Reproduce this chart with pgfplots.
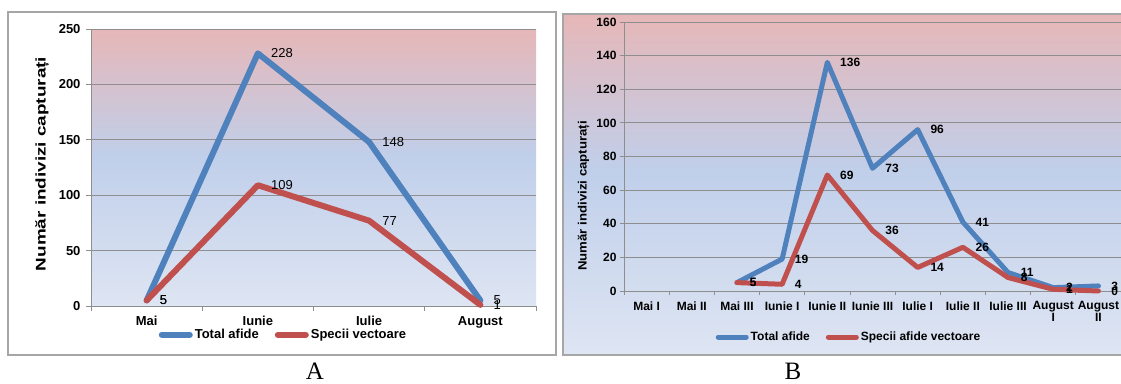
\documentclass[border=0pt]{standalone}
\usepackage{pgfplots}
\usepackage{pgfplotstable}
\pgfplotsset{compat=1.18}
\usepackage{fontspec}
\setmainfont{Liberation Sans}
\newfontfamily\panelfont{Liberation Serif}

\definecolor{totalblue}{HTML}{4F81BD}
\definecolor{vectred}{HTML}{C0504D}
\definecolor{bgTop}{HTML}{E6B7B8}
\definecolor{bgMid}{HTML}{C0CFEA}
\definecolor{bgBot}{HTML}{DEE5F3}
\definecolor{gridgray}{HTML}{8E8E8E}
\definecolor{framegray}{HTML}{A6A6A6}

% pink-to-blue background, blue reached a little above the middle
\pgfdeclareverticalshading{excelbg}{100bp}{color(0bp)=(bgBot); color(25bp)=(bgBot); color(52bp)=(bgMid); color(75bp)=(bgTop); color(100bp)=(bgTop)}

\newcommand{\fs}[1]{\fontsize{#1}{#1}\selectfont}

% monthly captures
\pgfplotstableread{
idx total vect
0 5 5
1 228 109
2 148 77
3 5 1
}\lunar

% captures per ten-day period
\pgfplotstableread{
idx total vect
2 5 5
3 19 4
4 136 69
5 73 36
6 96 14
7 41 26
8 11 8
9 2 1
10 3 0
}\decadal

\pgfplotsset{
  /pgf/number format/assume math mode=true,
  excelstyle/.style={
    scale only axis,
    axis lines*=left,
    axis line style={gridgray, line width=1pt},
    tick style={gridgray, line width=0.8pt},
    tick align=outside,
    major tick length=5pt,
    ymajorgrids,
    grid style={gridgray, line width=0.8pt},
    x tick label as interval,
    clip=false,
    legend columns=2,
    legend cell align=left,
    legend image code/.code={\draw[line cap=round] (0pt,0pt) -- (28pt,0pt);},
  },
}

\begin{document}
\begin{tikzpicture}[x=1pt,y=1pt]
\useasboundingbox (0,0) rectangle (1121,383);

% panel frames
\draw[framegray, line width=1.5pt, fill=white] (8,28) rectangle (556,371);
\shade[shading=excelbg] (563,28) rectangle (1135,369);
\draw[framegray, line width=1.5pt] (563,28) rectangle (1135,369);

% ---- A: monthly totals ----
\begin{axis}[
  excelstyle,
  at={(91pt,77pt)}, anchor=south west,
  width=445pt, height=277pt,
  axis background/.style={shade, shading=excelbg},
  xmin=-0.5, xmax=3.5, ymin=0, ymax=250,
  xtick={-0.5,0.5,...,3.5},
  xticklabels={Mai,Iunie,Iulie,August},
  ytick={0,50,...,250},
  ticklabel style={font=\bfseries\fs{13}},
  yticklabel style={xshift=-2pt},
  xticklabel style={yshift=-2pt},
  ylabel={\scalebox{1.35}[1]{\bfseries\fs{14}Număr indivizi capturați}},
  ylabel style={at={(axis description cs:-0.110,0.513)}, anchor=center},
  legend style={at={(axis description cs:0.4326,-0.104)}, anchor=center,
    draw=none, fill=none, font=\bfseries\fs{13},
    /tikz/every even column/.append style={column sep=14pt}},
  nodes near coords,
  every node near coord/.append style={anchor=west, xshift=7pt, text=black, font=\fs{13}},
]
\addplot[totalblue, line width=6pt, line join=round, line cap=round, mark=none]
  table[x=idx, y=total] {\lunar};
\addlegendentry{Total afide}
\addplot[vectred, line width=6pt, line join=round, line cap=round, mark=none]
  table[x=idx, y=vect] {\lunar};
\addlegendentry{Specii vectoare}
\end{axis}

% ---- B: ten-day periods ----
\begin{axis}[
  excelstyle,
  at={(624pt,92pt)}, anchor=south west,
  width=497pt, height=269pt,
  xmin=-0.5, xmax=10.5, ymin=0, ymax=160,
  xtick={-0.5,0.5,...,10.5},
  xticklabels={Mai I,Mai II,Mai III,Iunie I,Iunie II,Iunie III,Iulie I,Iulie II,Iulie III,{August\\I},{August\\II}},
  ytick={0,20,...,160},
  major tick length=4pt,
  ticklabel style={font=\bfseries\fs{12}},
  xticklabel style={align=center, yshift=-3pt},
  ylabel={\scalebox{1.1}[1]{\bfseries\fs{12}Număr indivizi capturați}},
  ylabel style={at={(axis description cs:-0.0815,0.353)}, anchor=center},
  legend style={at={(axis description cs:0.4527,-0.171)}, anchor=center,
    draw=none, fill=none, font=\bfseries\fs{12},
    /tikz/every even column/.append style={column sep=14pt}},
  nodes near coords,
  every node near coord/.append style={anchor=west, xshift=7pt, text=black, font=\bfseries\fs{12}},
]
\addplot[totalblue, line width=5pt, line join=round, line cap=round, mark=none]
  table[x=idx, y=total] {\decadal};
\addlegendentry{Total afide}
\addplot[vectred, line width=5pt, line join=round, line cap=round, mark=none]
  table[x=idx, y=vect] {\decadal};
\addlegendentry{Specii afide vectoare}
\end{axis}

% panel letters
\node[font=\panelfont\fs{25}, anchor=base, inner sep=0pt] at (315,4) {A};
\node[font=\panelfont\fs{25}, anchor=base, inner sep=0pt] at (793,4) {B};
\end{tikzpicture}
\end{document}
